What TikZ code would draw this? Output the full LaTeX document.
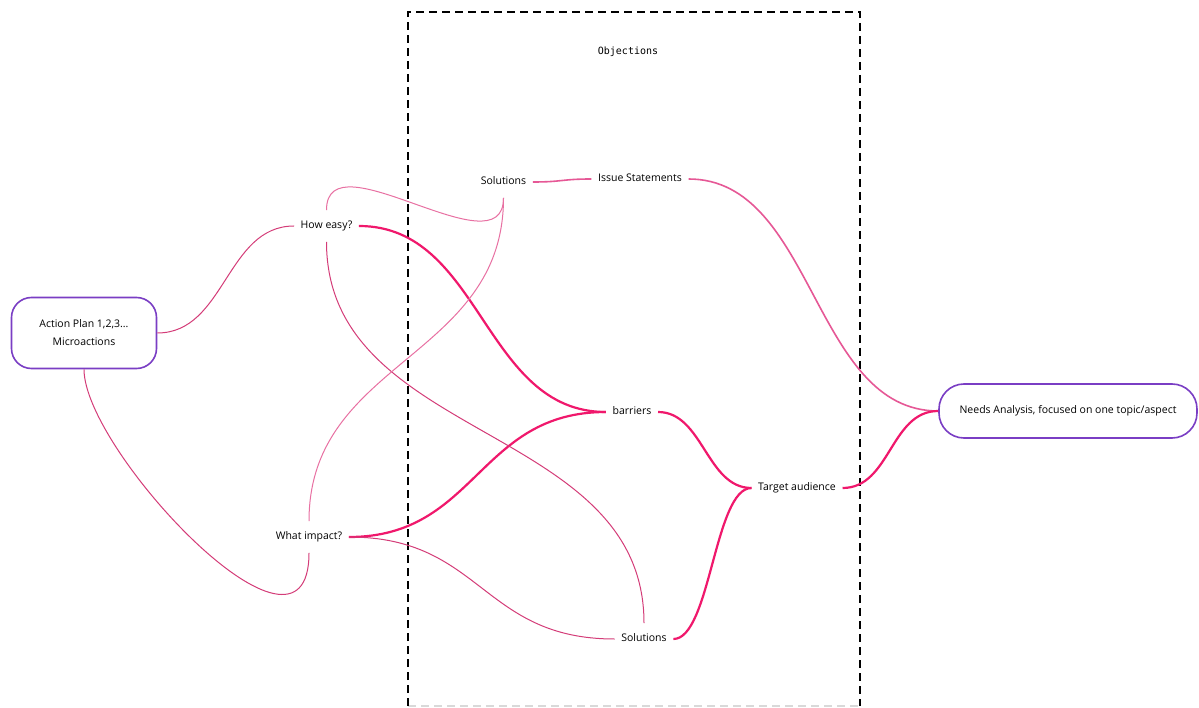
\documentclass[tikz,border=0pt]{standalone}
\usepackage{fontspec}
\setmainfont{Open Sans}
\setmonofont{DejaVu Sans Mono}
\usepackage{tikz}
\definecolor{mPurple}{RGB}{122,62,196}
\definecolor{mHot}{RGB}{240,24,108}
\definecolor{mRose}{RGB}{212,60,120}
\definecolor{mPale}{RGB}{232,112,162}
\definecolor{mPink}{RGB}{230,88,150}
\tikzset{
  rootbox/.style={rectangle, draw=mPurple, line width=1.6pt, fill=white,
              align=center, font=\fontsize{10.5}{18}\selectfont},
  topic/.style={inner xsep=6.5pt, inner ysep=10.5pt, text height=8pt, text depth=2.5pt,
              font=\fontsize{10.5}{12}\selectfont},
  hotlink/.style={draw=mHot, line width=2.2pt},
  thinlink/.style={draw=mRose, line width=1pt},
  palelink/.style={draw=mPale, line width=1pt},
  pinklink/.style={draw=mPink, line width=1.6pt},
  objbox/.style={line width=1.4pt, dash pattern=on 8pt off 5pt},
}

\begin{document}
\begin{tikzpicture}[x=1pt, y=-1pt]
  \useasboundingbox[fill=white] (0,0) rectangle (1199,708);
  % objections frame
  \draw[objbox, draw=black!15] (408,706) -- (860,706);
  \draw[objbox] (408,706) -- (408,12) -- (860,12) -- (860,706);
  \node[font=\ttfamily\fontsize{10}{12}\selectfont] (objections) at (628,52) {Objections};

  \node[rootbox, minimum width=145pt, minimum height=71pt, rounded corners=20pt]
    (actionplan) at (84,333) {Action Plan 1,2,3...\\Microactions};
  \node[rootbox, minimum width=258pt, minimum height=54pt, rounded corners=25pt]
    (needs) at (1068,411) {Needs Analysis, focused on one topic/aspect};

  \node[topic] (howeasy)    at (326.5,226) {How easy?};
  \node[topic] (whatimpact) at (309,537)   {What impact?};
  \node[topic] (solA)       at (503.5,182) {Solutions};
  \node[topic] (issues)     at (640,179)   {Issue Statements};
  \node[topic] (barriers)   at (632,412)   {barriers};
  \node[topic] (audience)   at (797,488)   {Target audience};
  \node[topic] (solB)       at (644,639)   {Solutions};

  % side to side links
  \foreach \a/\b/\k/\s in {actionplan/howeasy/68/thinlink, howeasy/barriers/123/hotlink,
      whatimpact/barriers/128/hotlink, whatimpact/solB/133/thinlink,
      solA/issues/30/pinklink, issues/needs/126/pinklink,
      barriers/audience/45/hotlink, solB/audience/37/hotlink, audience/needs/48/hotlink}
    \draw[\s] (\a.east) .. controls +(\k,0) and +(-\k,0) .. (\b.west);

  % up and down links
  \draw[thinlink] (actionplan.south) .. controls +(0,82) and +(0,137) .. (whatimpact.south);
  \draw[palelink] (howeasy.north) .. controls +(0,-75) and +(0,75) .. (solA.south);
  \draw[thinlink] (howeasy.south) .. controls +(0,200) and +(0,-200) .. (solB.north);
  \draw[palelink] (solA.south) .. controls +(0,161) and +(0,-161) .. (whatimpact.north);
\end{tikzpicture}
\end{document}
